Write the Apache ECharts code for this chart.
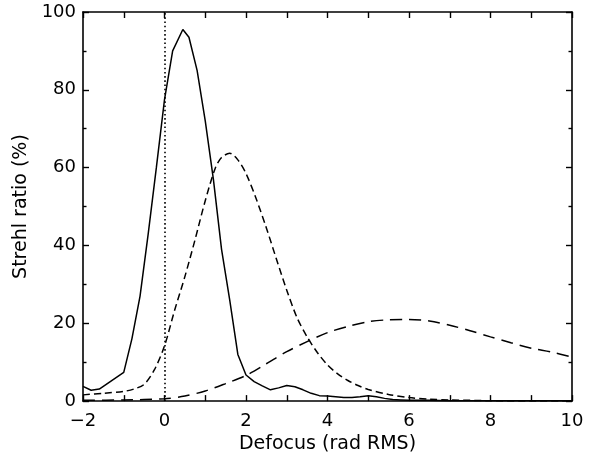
<!DOCTYPE html>
<html>
<head>
<meta charset="utf-8">
<script src="https://cdn.jsdelivr.net/npm/echarts@6/dist/echarts.min.js"></script>
<style>
  html, body { margin: 0; padding: 0; background: #fff; }
  #chart { width: 591px; height: 459px; }
</style>
</head>
<body>
<div id="chart"></div>
<script>
// defocus (rad RMS) / Strehl ratio (%)
var solidX = [-2, -1.8, -1.6, -1.0, -0.8, -0.6, -0.4, -0.2, 0, 0.2, 0.45, 0.6, 0.8, 1.0, 1.2, 1.4, 1.6, 1.8, 2.0, 2.2, 2.4, 2.6, 2.8, 3.0, 3.2, 3.4, 3.6, 3.8, 4.0, 4.2, 4.4, 4.6, 4.8, 5.0, 5.2, 5.4, 5.6, 5.8, 6.0, 6.5, 7, 8, 9, 10];
var solidY = [3.8, 2.8, 3.1, 7.4, 16, 27, 43, 60, 77.5, 90, 95.5, 93.5, 85, 72, 57, 39, 26, 12, 6.7, 5.0, 3.9, 2.9, 3.4, 4.0, 3.7, 2.9, 2.0, 1.4, 1.3, 1.1, 0.9, 0.9, 1.1, 1.4, 1.1, 0.7, 0.4, 0.3, 0.2, 0.2, 0.1, 0.1, 0.1, 0.1];

var shortX = [-2, -1.5, -1.0, -0.75, -0.5, -0.25, 0, 0.25, 0.5, 0.75, 1.0, 1.25, 1.4, 1.6, 1.8, 2.0, 2.25, 2.5, 2.75, 3.0, 3.25, 3.5, 3.75, 4.0, 4.25, 4.5, 4.75, 5.0, 5.5, 6.0, 6.5, 7.0, 8, 9, 10];
var shortY = [1.6, 2.0, 2.5, 3.1, 4.3, 8.0, 14.2, 23.4, 32, 41.5, 51.5, 60, 62.6, 63.7, 62, 58.5, 52, 44.5, 36.4, 28.5, 21.5, 16.5, 12.5, 9.3, 7.0, 5.3, 4.0, 3.0, 1.7, 0.9, 0.5, 0.3, 0.1, 0, 0];

var longX = [-2, -1, 0, 0.5, 1.0, 1.5, 2.0, 2.5, 3.0, 3.5, 4.0, 4.5, 5.0, 5.5, 6.0, 6.5, 7.0, 7.5, 8.0, 8.5, 9.0, 9.5, 10];
var longY = [0.2, 0.3, 0.6, 1.3, 2.6, 4.5, 6.6, 9.6, 12.7, 15.3, 17.6, 19.2, 20.4, 20.9, 21.0, 20.6, 19.5, 18.1, 16.5, 15.0, 13.6, 12.6, 11.3];

var zeroFocus = 0;
var xRange = [-2, 10];
var yRange = [0, 100];

function pairs(xs, ys) {
    return xs.map(function (x, i) { return [x, ys[i]]; });
}

var FONT = 'DejaVu Sans';

window.onload = function () {
    var myChart = echarts.init(document.getElementById('chart'));

    function xAx(pos, shown) {
        return {
            type: 'value',
            position: pos,
            min: xRange[0], max: xRange[1], interval: 2,
            name: shown ? 'Defocus (rad RMS)' : '',
            nameLocation: 'middle',
            nameGap: 30,
            nameTextStyle: { color: '#000', fontFamily: FONT, fontSize: 19 },
            axisLine: { onZero: false, lineStyle: { color: '#000', width: 1.6 } },
            axisTick: { show: true, inside: true, length: 6, lineStyle: { color: '#000', width: 1.4 } },
            minorTick: { show: true, splitNumber: 2, length: 6, lineStyle: { color: '#000', width: 1.4 } },
            axisLabel: {
                show: shown, margin: 11, color: '#000', fontFamily: FONT, fontSize: 18,
                formatter: function (v) { return String(v).replace('-', '\u2212'); }
            },
            splitLine: { show: false }
        };
    }

    function yAx(pos, shown) {
        return {
            type: 'value',
            position: pos,
            min: yRange[0], max: yRange[1], interval: 20,
            name: shown ? 'Strehl ratio (%)' : '',
            nameLocation: 'middle',
            nameGap: 50,
            nameTextStyle: { color: '#000', fontFamily: FONT, fontSize: 19 },
            axisLine: { show: true, onZero: false, lineStyle: { color: '#000', width: 1.6 } },
            axisTick: { show: true, inside: true, length: 6, lineStyle: { color: '#000', width: 1.4 } },
            minorTick: { show: true, splitNumber: 2, length: 3.5, lineStyle: { color: '#000', width: 1.4 } },
            axisLabel: { show: shown, margin: 7, color: '#000', fontFamily: FONT, fontSize: 18 },
            splitLine: { show: false }
        };
    }

    var option = {
        animation: false,
        backgroundColor: '#fff',
        grid: { left: 83, right: 19, top: 12, bottom: 56, containLabel: false },
        xAxis: [xAx('bottom', true), xAx('top', false)],
        yAxis: [yAx('left', true), yAx('right', false)],
        series: [
            {
                name: 'solid',
                type: 'line',
                data: pairs(solidX, solidY),
                symbol: 'none',
                lineStyle: { color: '#000', width: 1.5 },
                markLine: {
                    silent: true,
                    symbol: 'none',
                    label: { show: false },
                    lineStyle: { color: '#000', width: 1.6, type: [1.6, 2.6] },
                    data: [{ xAxis: zeroFocus }]
                }
            },
            {
                name: 'short dash',
                type: 'line',
                data: pairs(shortX, shortY),
                symbol: 'none',
                smooth: 0.3,
                lineStyle: { color: '#000', width: 1.5, type: [7, 4] }
            },
            {
                name: 'long dash',
                type: 'line',
                data: pairs(longX, longY),
                symbol: 'none',
                smooth: 0.3,
                lineStyle: { color: '#000', width: 1.5, type: [12, 7] }
            }
        ]
    };
    myChart.setOption(option, true);
};
</script>
</body>
</html>
